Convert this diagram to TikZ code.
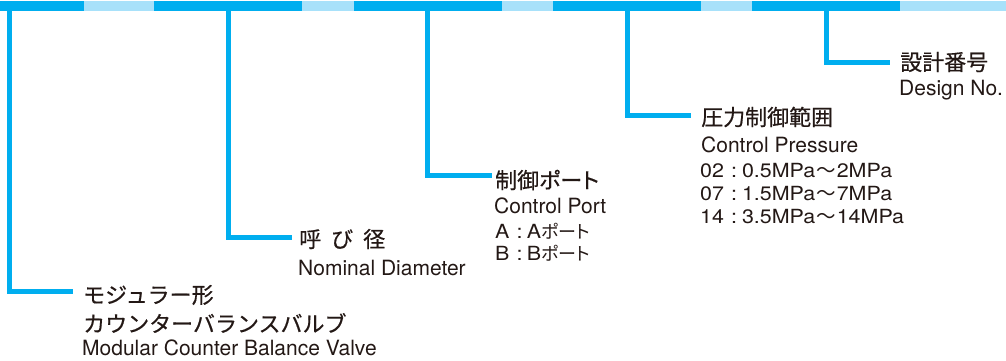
\documentclass[tikz,border=0pt]{standalone}
\usepackage{fontspec}
\setmainfont{TeX Gyre Heros}
\newfontfamily\widesans[FakeStretch=1.1]{TeX Gyre Heros}
\newfontfamily\jp[FakeBold=0.5]{Noto Sans CJK JP}
\newfontfamily\jpp[RawFeature=+palt,FakeBold=0.5]{Noto Sans CJK JP}
\newfontfamily\jpl[RawFeature=+palt]{Noto Sans CJK JP}
\newcommand\jkana[1]{{\jpl\fontsize{18}{21}\selectfont #1}}
\newcommand\jwave{\hspace{1pt}{\jpl\fontsize{19.5}{22}\selectfont ～}\hspace{1pt}}
\definecolor{barA}{HTML}{00AEEF}
\definecolor{barB}{HTML}{A8E1FA}
\definecolor{inkc}{HTML}{231815}
\begin{document}
\begin{tikzpicture}[x=1pt,y=-1pt,
  lead/.style={draw=barA,line width=5pt},
  jtitle/.style={anchor=west,inner sep=0pt,text=inkc,font=\jp\fontsize{22}{26}\selectfont},
  ptitle/.style={anchor=west,inner sep=0pt,text=inkc,font=\jpp\fontsize{22}{26}\selectfont},
  etitle/.style={anchor=base west,inner sep=0pt,text=inkc,font=\fontsize{21}{25}\selectfont},
  detail/.style={anchor=base west,inner sep=0pt,text=inkc,font=\widesans\fontsize{19.5}{23}\selectfont}]
\useasboundingbox (0,0) rectangle (1006,361);
% top bar
\fill[barA] (0,0.7) rectangle (84,11);
\fill[barB] (84,0.7) rectangle (154,11);
\fill[barA] (154,0.7) rectangle (302,11);
\fill[barB] (302,0.7) rectangle (354,11);
\fill[barA] (354,0.7) rectangle (502,11);
\fill[barB] (502,0.7) rectangle (553,11);
\fill[barA] (553,0.7) rectangle (700.5,11);
\fill[barB] (700.5,0.7) rectangle (752,11);
\fill[barA] (752,0.7) rectangle (900,11);
\fill[barB] (900,0.7) rectangle (1006,11);
% leader start and end points
\coordinate (s1) at (9.5,10);   \coordinate (e1) at (73,291);
\coordinate (s2) at (228.5,10); \coordinate (e2) at (292,237.5);
\coordinate (s3) at (427.6,10); \coordinate (e3) at (492,175);
\coordinate (s4) at (627,10);   \coordinate (e4) at (691,115.5);
\coordinate (s5) at (826,10);   \coordinate (e5) at (890,63);
\draw[lead] (s1) |- (e1);
\draw[lead] (s2) |- (e2);
\draw[lead] (s3) |- (e3);
\draw[lead] (s4) |- (e4);
\draw[lead] (s5) |- (e5);
% group 1
\node[jtitle] (t1a) at (83,295) {モジュラー形};
\node[jtitle] (t1b) at (83,323) {カウンターバランスバルブ};
\node[etitle] (t1c) at (82,355) {Modular Counter Balance Valve};
% group 2
\node[jtitle] (t2a) at (299,239) {呼\hspace{10pt}び\hspace{10pt}径};
\node[etitle] (t2b) at (298,275) {Nominal Diameter};
% group 3
\node[ptitle] (t3a) at (495,180) {制御ポート};
\node[etitle] (t3b) at (494,213) {Control Port};
\node[detail] (t3c) at (495,238) {A\hspace{7pt}:\hspace{4.5pt}A\jkana{ポート}};
\node[detail] (t3d) at (495,260) {B\hspace{7pt}:\hspace{4.5pt}B\jkana{ポート}};
% group 4
\node[jtitle] (t4a) at (701,117) {圧力制御範囲};
\node[etitle] (t4b) at (701,152) {Control Pressure};
\node[detail] (t4c) at (700,177) {02\hspace{7pt}:\hspace{5pt}0.5MPa\jwave 2MPa};
\node[detail] (t4d) at (700,200) {07\hspace{7pt}:\hspace{5pt}1.5MPa\jwave 7MPa};
\node[detail] (t4e) at (700,223) {14\hspace{7pt}:\hspace{5pt}3.5MPa\jwave 14MPa};
% group 5
\node[jtitle] (t5a) at (900,62) {設計番号};
\node[etitle] (t5b) at (899,95) {Design No.};
\end{tikzpicture}
\end{document}
